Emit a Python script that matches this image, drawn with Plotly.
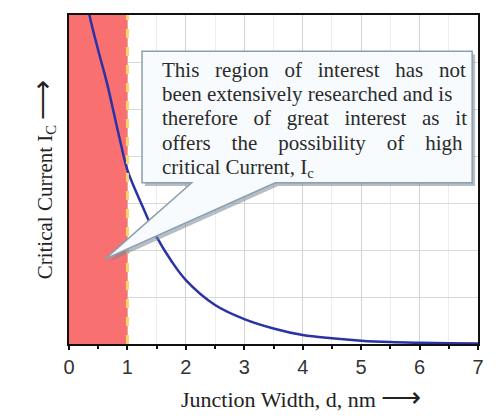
import plotly.graph_objects as go

# junction width d (nm) and critical current (arbitrary units)
width_nm = [0.30, 0.35, 0.50, 0.65, 0.87, 1.00, 1.25, 1.36, 1.50, 1.75, 2.00,
            2.50, 3.00, 3.50, 4.00, 4.50, 5.00, 5.50, 6.00, 6.50, 7.00]
crit_current = [7.40, 7.00, 6.25, 5.55, 4.35, 3.70, 2.95, 2.64, 2.28, 1.77, 1.36,
                0.83, 0.53, 0.33, 0.19, 0.12, 0.07, 0.04, 0.025, 0.015, 0.01]

region_x = [0, 0, 1, 1]      # shaded region of interest
region_y = [0, 7, 7, 0]
x_ticks = [0, 1, 2, 3, 4, 5, 6, 7]

callout_lines = [
    (["This", "region", "of", "interest", "has", "not"], 2),
    (["been", "extensively", "researched", "and", "is"], 0),
    (["therefore", "of", "great", "interest", "as", "it"], 2),
    (["offers", "the", "possibility", "of", "high"], 3),
    (["critical", "Current,", "I<sub>c</sub>"], 0),
]

NB = "\u00a0"
ARROW = '<span style="font-size:28px">\u27f6</span>'


def justify(words, extra):
    return (" " + NB * extra).join(words)


fig = go.Figure()

# red region as a filled trace so it sits over the grid but under the curve
fig.add_trace(go.Scatter(x=region_x, y=region_y, mode="lines", fill="toself",
                         fillcolor="#f87070", line=dict(width=0),
                         showlegend=False, hoverinfo="skip"))
fig.add_trace(go.Scatter(x=width_nm, y=crit_current, mode="lines",
                         line=dict(color="#2a33a6", width=2.5, shape="spline"),
                         showlegend=False, hoverinfo="skip"))

fig.add_shape(type="line", x0=region_x[-1], x1=region_x[-1], y0=0, y1=1,
              xref="x", yref="paper",
              line=dict(color="#f7d36a", width=3, dash="dash"))

# callout bubble (shadow, then box with pointer)
bx0, bx1, by0, by1 = 1.25, 6.90, 3.43, 6.23
p_left, p_right, tip_x, tip_y = 2.10, 3.53, 0.62, 1.81


def bubble(dx=0.0, dy=0.0):
    pts = [(bx0, by0), (p_left, by0), (tip_x, tip_y), (p_right, by0),
           (bx1, by0), (bx1, by1), (bx0, by1)]
    return "M " + " L ".join(f"{x + dx},{y + dy}" for x, y in pts) + " Z"


fig.add_shape(type="path", path=bubble(0.05, -0.07), xref="x", yref="y",
              fillcolor="rgba(120,135,150,0.55)", line_width=0)
fig.add_shape(type="path", path=bubble(), xref="x", yref="y",
              fillcolor="#f8fbfd", line=dict(color="#8a9fb0", width=1.5))

line_y = [5.83, 5.32, 4.81, 4.28, 3.74]
for (words, extra), ly in zip(callout_lines, line_y):
    fig.add_annotation(x=1.55, y=ly, xref="x", yref="y", xanchor="left",
                       yanchor="middle", showarrow=False,
                       text=justify(words, extra),
                       font=dict(family="Liberation Serif", size=21, color="#2b2b2b"))

# x-axis title sits a little right of centre in the original, so place it by hand
fig.add_annotation(x=0.567, y=0, xref="paper", yref="paper", yshift=-53,
                   xanchor="center", yanchor="middle", showarrow=False,
                   text="Junction Width, d, nm " + ARROW,
                   font=dict(family="Liberation Serif", size=22, color="#222"))

fig.update_xaxes(range=[0, 7], tickvals=x_ticks, ticks="outside", ticklen=4,
                 tickwidth=1.5, tickcolor="#111",
                 minor=dict(dtick=0.5, ticks="outside", ticklen=3, tickcolor="#111",
                            showgrid=True, gridcolor="#ececec", gridwidth=1),
                 showgrid=True, gridcolor="#d2d2d2", gridwidth=1,
                 showline=True, linecolor="#111", linewidth=2, mirror=True,
                 tickfont=dict(family="Liberation Sans", size=20, color="#333"),
                 zeroline=False, automargin=False)
fig.update_yaxes(range=[0, 7], dtick=1, showticklabels=False, ticks="",
                 showgrid=True, gridcolor="#d8d8d8", gridwidth=1,
                 showline=True, linecolor="#111", linewidth=2, mirror=True,
                 title=dict(text="Critical Current I<sub>C</sub> " + ARROW, standoff=9,
                            font=dict(family="Liberation Serif", size=21, color="#222")),
                 zeroline=False, automargin=False)

# page body has an 8px margin, so the figure is shrunk by that much
fig.update_layout(width=492, height=412, margin=dict(l=61, r=22, t=7, b=76),
                  plot_bgcolor="white", paper_bgcolor="white")

fig.write_html("out.html")
